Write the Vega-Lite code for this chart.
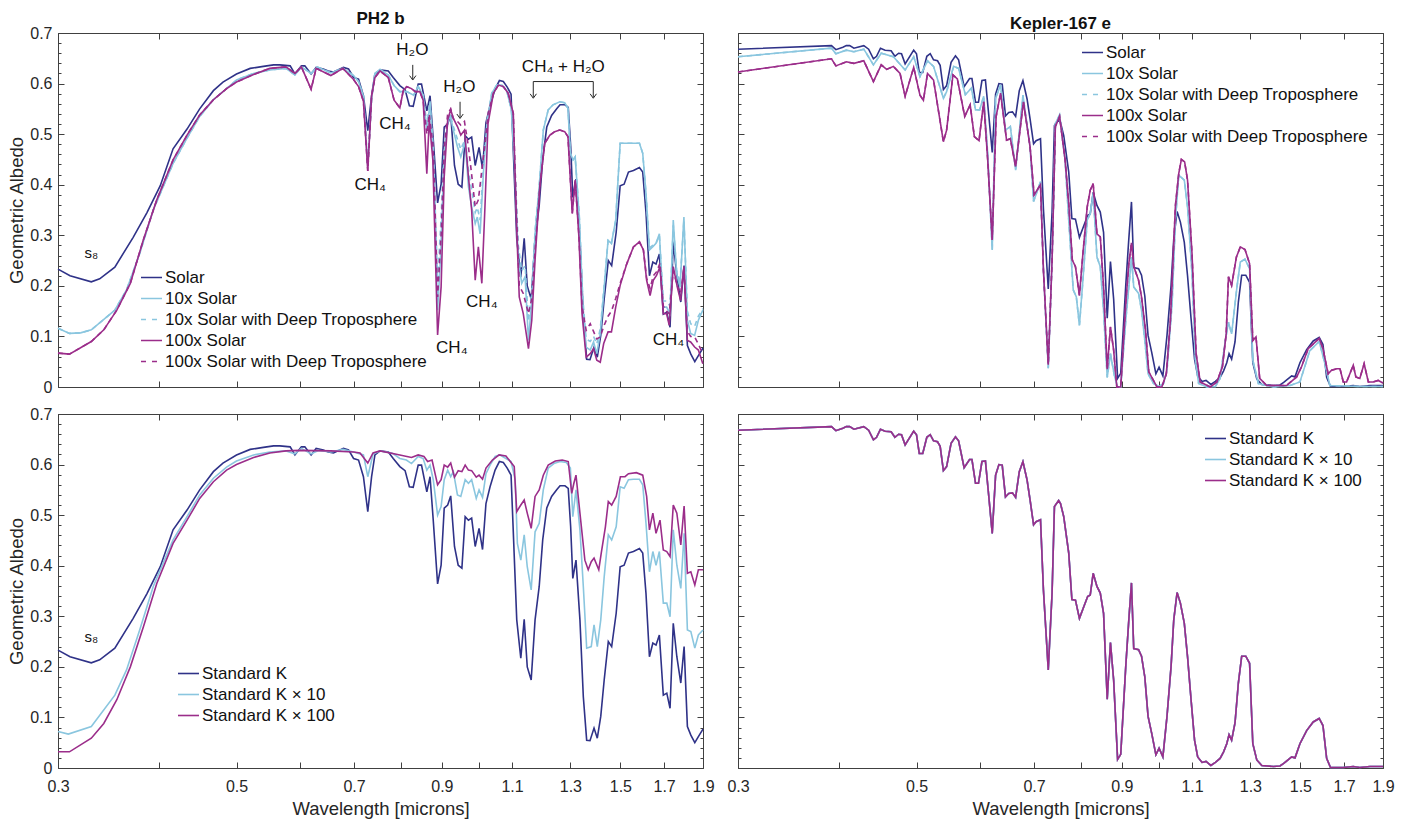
{
  "$schema": "https://vega.github.io/schema/vega-lite/v6.json",
  "background": "white",
  "padding": {"left": 7, "top": 10, "right": 10, "bottom": 5},
  "config": {
    "font": "Liberation Sans",
    "view": {"stroke": null},
    "axis": {
      "labelFont": "Liberation Sans", "titleFont": "Liberation Sans",
      "labelFontSize": 16, "titleFontSize": 18.5, "titleFontWeight": "normal",
      "labelColor": "#262626", "titleColor": "#262626",
      "domainColor": "#404040", "tickColor": "#404040",
      "domainWidth": 1, "tickWidth": 1, "grid": false,
      "labelFlush": false, "labelOverlap": false
    },
    "legend": {
      "symbolType": "stroke", "symbolSize": 441, "symbolStrokeWidth": 1.6,
      "labelFont": "Liberation Sans", "labelFontSize": 17, "labelColor": "#111111",
      "labelLimit": 500, "rowPadding": 1, "labelOffset": 2, "padding": 0
    },
    "title": {"font": "Liberation Sans", "fontSize": 17, "fontWeight": "bold", "color": "#111111", "offset": -3, "anchor": "middle"}
  },
  "datasets": {
    "frame": [{"w": 0.3, "a": 0}, {"w": 1.9, "a": 0.7}],
    "ph2_solar": [{"w":0.3,"a":0.233},{"w":0.3105,"a":0.22},{"w":0.33,"a":0.208},{"w":0.338,"a":0.214},{"w":0.353,"a":0.237},{"w":0.372,"a":0.296},{"w":0.387,"a":0.345},{"w":0.402,"a":0.398},{"w":0.417,"a":0.471},{"w":0.434,"a":0.51},{"w":0.45,"a":0.55},{"w":0.468,"a":0.586},{"w":0.481,"a":0.603},{"w":0.5,"a":0.619},{"w":0.52,"a":0.63},{"w":0.54,"a":0.634},{"w":0.556,"a":0.637},{"w":0.566,"a":0.637},{"w":0.583,"a":0.635},{"w":0.591,"a":0.619},{"w":0.602,"a":0.635},{"w":0.608,"a":0.635},{"w":0.619,"a":0.619},{"w":0.628,"a":0.632},{"w":0.641,"a":0.629},{"w":0.65,"a":0.625},{"w":0.66,"a":0.623},{"w":0.679,"a":0.632},{"w":0.689,"a":0.629},{"w":0.699,"a":0.612},{"w":0.709,"a":0.609},{"w":0.719,"a":0.576},{"w":0.728,"a":0.507},{"w":0.736,"a":0.576},{"w":0.743,"a":0.619},{"w":0.754,"a":0.627},{"w":0.772,"a":0.625},{"w":0.783,"a":0.612},{"w":0.798,"a":0.596},{"w":0.81,"a":0.588},{"w":0.82,"a":0.556},{"w":0.829,"a":0.555},{"w":0.841,"a":0.599},{"w":0.849,"a":0.599},{"w":0.862,"a":0.546},{"w":0.87,"a":0.576},{"w":0.878,"a":0.49},{"w":0.889,"a":0.364},{"w":0.898,"a":0.401},{"w":0.906,"a":0.514},{"w":0.915,"a":0.52},{"w":0.923,"a":0.538},{"w":0.933,"a":0.438},{"w":0.943,"a":0.401},{"w":0.953,"a":0.395},{"w":0.962,"a":0.497},{"w":0.971,"a":0.49},{"w":0.98,"a":0.494},{"w":0.99,"a":0.438},{"w":1.001,"a":0.474},{"w":1.011,"a":0.432},{"w":1.021,"a":0.523},{"w":1.033,"a":0.556},{"w":1.048,"a":0.589},{"w":1.061,"a":0.606},{"w":1.073,"a":0.604},{"w":1.085,"a":0.593},{"w":1.097,"a":0.579},{"w":1.115,"a":0.293},{"w":1.128,"a":0.217},{"w":1.139,"a":0.294},{"w":1.149,"a":0.2},{"w":1.162,"a":0.174},{"w":1.175,"a":0.293},{"w":1.189,"a":0.359},{"w":1.201,"a":0.451},{"w":1.215,"a":0.514},{"w":1.232,"a":0.537},{"w":1.25,"a":0.55},{"w":1.262,"a":0.558},{"w":1.28,"a":0.558},{"w":1.292,"a":0.553},{"w":1.301,"a":0.477},{"w":1.309,"a":0.375},{"w":1.321,"a":0.411},{"w":1.336,"a":0.293},{"w":1.349,"a":0.141},{"w":1.362,"a":0.055},{"w":1.375,"a":0.054},{"w":1.391,"a":0.079},{"w":1.404,"a":0.059},{"w":1.418,"a":0.102},{"w":1.432,"a":0.174},{"w":1.449,"a":0.25},{"w":1.463,"a":0.24},{"w":1.482,"a":0.306},{"w":1.499,"a":0.398},{"w":1.516,"a":0.401},{"w":1.535,"a":0.425},{"w":1.557,"a":0.428},{"w":1.584,"a":0.434},{"w":1.599,"a":0.425},{"w":1.614,"a":0.345},{"w":1.63,"a":0.22},{"w":1.646,"a":0.247},{"w":1.661,"a":0.243},{"w":1.677,"a":0.263},{"w":1.696,"a":0.144},{"w":1.713,"a":0.148},{"w":1.729,"a":0.118},{"w":1.745,"a":0.286},{"w":1.763,"a":0.22},{"w":1.783,"a":0.168},{"w":1.8,"a":0.24},{"w":1.817,"a":0.082},{"w":1.835,"a":0.065},{"w":1.856,"a":0.05},{"w":1.875,"a":0.062},{"w":1.9,"a":0.077}],
    "ph2_10x": [{"w":0.3,"a":0.116},{"w":0.31,"a":0.106},{"w":0.32,"a":0.107},{"w":0.33,"a":0.113},{"w":0.353,"a":0.152},{"w":0.365,"a":0.192},{"w":0.379,"a":0.264},{"w":0.394,"a":0.35},{"w":0.417,"a":0.442},{"w":0.434,"a":0.492},{"w":0.45,"a":0.535},{"w":0.468,"a":0.568},{"w":0.486,"a":0.59},{"w":0.5,"a":0.607},{"w":0.525,"a":0.62},{"w":0.55,"a":0.627},{"w":0.576,"a":0.63},{"w":0.591,"a":0.617},{"w":0.602,"a":0.633},{"w":0.619,"a":0.62},{"w":0.63,"a":0.633},{"w":0.655,"a":0.621},{"w":0.678,"a":0.63},{"w":0.699,"a":0.616},{"w":0.709,"a":0.604},{"w":0.719,"a":0.575},{"w":0.728,"a":0.436},{"w":0.736,"a":0.57},{"w":0.743,"a":0.62},{"w":0.754,"a":0.628},{"w":0.772,"a":0.617},{"w":0.785,"a":0.596},{"w":0.798,"a":0.584},{"w":0.814,"a":0.584},{"w":0.83,"a":0.577},{"w":0.841,"a":0.594},{"w":0.853,"a":0.577},{"w":0.862,"a":0.508},{"w":0.87,"a":0.561},{"w":0.878,"a":0.462},{"w":0.889,"a":0.152},{"w":0.897,"a":0.264},{"w":0.906,"a":0.462},{"w":0.915,"a":0.521},{"w":0.921,"a":0.538},{"w":0.93,"a":0.508},{"w":0.941,"a":0.475},{"w":0.95,"a":0.455},{"w":0.962,"a":0.485},{"w":0.971,"a":0.396},{"w":0.98,"a":0.356},{"w":0.99,"a":0.323},{"w":0.996,"a":0.336},{"w":1.004,"a":0.303},{"w":1.014,"a":0.429},{"w":1.025,"a":0.528},{"w":1.038,"a":0.581},{"w":1.053,"a":0.597},{"w":1.068,"a":0.597},{"w":1.083,"a":0.587},{"w":1.098,"a":0.548},{"w":1.109,"a":0.429},{"w":1.12,"a":0.251},{"w":1.131,"a":0.205},{"w":1.142,"a":0.218},{"w":1.153,"a":0.092},{"w":1.164,"a":0.171},{"w":1.175,"a":0.303},{"w":1.189,"a":0.396},{"w":1.203,"a":0.508},{"w":1.22,"a":0.548},{"w":1.237,"a":0.558},{"w":1.261,"a":0.564},{"w":1.279,"a":0.562},{"w":1.291,"a":0.551},{"w":1.3,"a":0.462},{"w":1.31,"a":0.449},{"w":1.318,"a":0.455},{"w":1.334,"a":0.33},{"w":1.347,"a":0.165},{"w":1.36,"a":0.079},{"w":1.376,"a":0.073},{"w":1.389,"a":0.089},{"w":1.402,"a":0.066},{"w":1.416,"a":0.106},{"w":1.43,"a":0.185},{"w":1.448,"a":0.29},{"w":1.462,"a":0.284},{"w":1.48,"a":0.33},{"w":1.499,"a":0.482},{"w":1.584,"a":0.482},{"w":1.599,"a":0.462},{"w":1.614,"a":0.383},{"w":1.63,"a":0.271},{"w":1.645,"a":0.277},{"w":1.661,"a":0.284},{"w":1.677,"a":0.303},{"w":1.696,"a":0.158},{"w":1.712,"a":0.158},{"w":1.729,"a":0.145},{"w":1.745,"a":0.33},{"w":1.762,"a":0.224},{"w":1.779,"a":0.198},{"w":1.799,"a":0.336},{"w":1.817,"a":0.132},{"w":1.834,"a":0.106},{"w":1.855,"a":0.102},{"w":1.875,"a":0.132},{"w":1.899,"a":0.152}],
    "ph2_10xd": [{"w":0.3,"a":0.116},{"w":0.31,"a":0.106},{"w":0.32,"a":0.107},{"w":0.33,"a":0.113},{"w":0.353,"a":0.152},{"w":0.365,"a":0.192},{"w":0.379,"a":0.264},{"w":0.394,"a":0.35},{"w":0.417,"a":0.442},{"w":0.434,"a":0.492},{"w":0.45,"a":0.535},{"w":0.468,"a":0.568},{"w":0.486,"a":0.59},{"w":0.5,"a":0.607},{"w":0.525,"a":0.62},{"w":0.55,"a":0.627},{"w":0.576,"a":0.63},{"w":0.591,"a":0.617},{"w":0.602,"a":0.633},{"w":0.619,"a":0.62},{"w":0.63,"a":0.633},{"w":0.655,"a":0.621},{"w":0.678,"a":0.63},{"w":0.699,"a":0.616},{"w":0.709,"a":0.604},{"w":0.719,"a":0.575},{"w":0.728,"a":0.436},{"w":0.736,"a":0.57},{"w":0.743,"a":0.62},{"w":0.754,"a":0.628},{"w":0.772,"a":0.617},{"w":0.785,"a":0.596},{"w":0.798,"a":0.584},{"w":0.814,"a":0.584},{"w":0.83,"a":0.577},{"w":0.841,"a":0.594},{"w":0.853,"a":0.577},{"w":0.862,"a":0.52},{"w":0.87,"a":0.565},{"w":0.878,"a":0.47},{"w":0.889,"a":0.21},{"w":0.897,"a":0.32},{"w":0.906,"a":0.475},{"w":0.915,"a":0.525},{"w":0.921,"a":0.54},{"w":0.93,"a":0.515},{"w":0.941,"a":0.49},{"w":0.95,"a":0.47},{"w":0.962,"a":0.49},{"w":0.971,"a":0.43},{"w":0.98,"a":0.39},{"w":0.99,"a":0.345},{"w":0.996,"a":0.355},{"w":1.004,"a":0.33},{"w":1.014,"a":0.44},{"w":1.025,"a":0.53},{"w":1.038,"a":0.581},{"w":1.053,"a":0.597},{"w":1.068,"a":0.597},{"w":1.083,"a":0.587},{"w":1.098,"a":0.548},{"w":1.109,"a":0.44},{"w":1.12,"a":0.28},{"w":1.131,"a":0.23},{"w":1.142,"a":0.24},{"w":1.153,"a":0.13},{"w":1.164,"a":0.19},{"w":1.175,"a":0.31},{"w":1.189,"a":0.396},{"w":1.203,"a":0.508},{"w":1.22,"a":0.548},{"w":1.237,"a":0.558},{"w":1.261,"a":0.564},{"w":1.279,"a":0.562},{"w":1.291,"a":0.551},{"w":1.3,"a":0.462},{"w":1.31,"a":0.449},{"w":1.318,"a":0.455},{"w":1.334,"a":0.335},{"w":1.347,"a":0.175},{"w":1.36,"a":0.095},{"w":1.376,"a":0.09},{"w":1.389,"a":0.1},{"w":1.402,"a":0.085},{"w":1.416,"a":0.115},{"w":1.43,"a":0.19},{"w":1.448,"a":0.29},{"w":1.462,"a":0.284},{"w":1.48,"a":0.33},{"w":1.499,"a":0.482},{"w":1.584,"a":0.482},{"w":1.599,"a":0.462},{"w":1.614,"a":0.383},{"w":1.63,"a":0.275},{"w":1.645,"a":0.28},{"w":1.661,"a":0.284},{"w":1.677,"a":0.3},{"w":1.696,"a":0.17},{"w":1.712,"a":0.17},{"w":1.729,"a":0.16},{"w":1.745,"a":0.32},{"w":1.762,"a":0.23},{"w":1.779,"a":0.205},{"w":1.799,"a":0.33},{"w":1.817,"a":0.15},{"w":1.834,"a":0.125},{"w":1.855,"a":0.12},{"w":1.875,"a":0.14},{"w":1.899,"a":0.155}],
    "ph2_100x": [{"w":0.3,"a":0.067},{"w":0.31,"a":0.065},{"w":0.33,"a":0.09},{"w":0.342,"a":0.113},{"w":0.355,"a":0.152},{"w":0.369,"a":0.205},{"w":0.383,"a":0.291},{"w":0.398,"a":0.37},{"w":0.417,"a":0.449},{"w":0.434,"a":0.498},{"w":0.45,"a":0.538},{"w":0.468,"a":0.568},{"w":0.486,"a":0.59},{"w":0.5,"a":0.603},{"w":0.525,"a":0.618},{"w":0.55,"a":0.63},{"w":0.576,"a":0.633},{"w":0.591,"a":0.62},{"w":0.602,"a":0.633},{"w":0.619,"a":0.589},{"w":0.628,"a":0.63},{"w":0.655,"a":0.616},{"w":0.678,"a":0.63},{"w":0.699,"a":0.608},{"w":0.709,"a":0.594},{"w":0.719,"a":0.565},{"w":0.728,"a":0.427},{"w":0.736,"a":0.575},{"w":0.743,"a":0.612},{"w":0.754,"a":0.625},{"w":0.772,"a":0.612},{"w":0.785,"a":0.567},{"w":0.798,"a":0.552},{"w":0.806,"a":0.587},{"w":0.814,"a":0.594},{"w":0.825,"a":0.59},{"w":0.834,"a":0.584},{"w":0.845,"a":0.584},{"w":0.853,"a":0.567},{"w":0.862,"a":0.422},{"w":0.868,"a":0.528},{"w":0.877,"a":0.449},{"w":0.881,"a":0.33},{"w":0.889,"a":0.103},{"w":0.898,"a":0.198},{"w":0.906,"a":0.416},{"w":0.915,"a":0.528},{"w":0.923,"a":0.548},{"w":0.93,"a":0.531},{"w":0.941,"a":0.515},{"w":0.95,"a":0.498},{"w":0.96,"a":0.508},{"w":0.971,"a":0.416},{"w":0.98,"a":0.35},{"w":0.99,"a":0.211},{"w":0.999,"a":0.277},{"w":1.009,"a":0.205},{"w":1.018,"a":0.356},{"w":1.027,"a":0.521},{"w":1.043,"a":0.581},{"w":1.058,"a":0.597},{"w":1.073,"a":0.594},{"w":1.088,"a":0.581},{"w":1.104,"a":0.541},{"w":1.115,"a":0.31},{"w":1.123,"a":0.178},{"w":1.136,"a":0.145},{"w":1.153,"a":0.076},{"w":1.164,"a":0.132},{"w":1.175,"a":0.251},{"w":1.191,"a":0.396},{"w":1.208,"a":0.482},{"w":1.226,"a":0.498},{"w":1.243,"a":0.505},{"w":1.261,"a":0.508},{"w":1.279,"a":0.505},{"w":1.291,"a":0.495},{"w":1.3,"a":0.409},{"w":1.307,"a":0.343},{"w":1.318,"a":0.409},{"w":1.332,"a":0.297},{"w":1.344,"a":0.145},{"w":1.36,"a":0.059},{"w":1.376,"a":0.066},{"w":1.389,"a":0.076},{"w":1.402,"a":0.053},{"w":1.416,"a":0.049},{"w":1.43,"a":0.086},{"w":1.448,"a":0.109},{"w":1.462,"a":0.109},{"w":1.48,"a":0.158},{"w":1.499,"a":0.201},{"w":1.528,"a":0.244},{"w":1.557,"a":0.277},{"w":1.584,"a":0.287},{"w":1.602,"a":0.271},{"w":1.617,"a":0.211},{"w":1.633,"a":0.181},{"w":1.648,"a":0.211},{"w":1.664,"a":0.221},{"w":1.68,"a":0.238},{"w":1.696,"a":0.145},{"w":1.712,"a":0.145},{"w":1.725,"a":0.122},{"w":1.745,"a":0.238},{"w":1.765,"a":0.198},{"w":1.782,"a":0.171},{"w":1.799,"a":0.238},{"w":1.817,"a":0.092},{"w":1.834,"a":0.089},{"w":1.855,"a":0.079},{"w":1.875,"a":0.073},{"w":1.899,"a":0.046}],
    "ph2_100xd": [{"w":0.3,"a":0.067},{"w":0.31,"a":0.065},{"w":0.33,"a":0.09},{"w":0.342,"a":0.113},{"w":0.355,"a":0.152},{"w":0.369,"a":0.205},{"w":0.383,"a":0.291},{"w":0.398,"a":0.37},{"w":0.417,"a":0.449},{"w":0.434,"a":0.498},{"w":0.45,"a":0.538},{"w":0.468,"a":0.568},{"w":0.486,"a":0.59},{"w":0.5,"a":0.603},{"w":0.525,"a":0.618},{"w":0.55,"a":0.63},{"w":0.576,"a":0.633},{"w":0.591,"a":0.62},{"w":0.602,"a":0.633},{"w":0.619,"a":0.589},{"w":0.628,"a":0.63},{"w":0.655,"a":0.616},{"w":0.678,"a":0.63},{"w":0.699,"a":0.608},{"w":0.709,"a":0.594},{"w":0.719,"a":0.565},{"w":0.728,"a":0.427},{"w":0.736,"a":0.575},{"w":0.743,"a":0.612},{"w":0.754,"a":0.625},{"w":0.772,"a":0.612},{"w":0.785,"a":0.567},{"w":0.798,"a":0.552},{"w":0.806,"a":0.587},{"w":0.814,"a":0.594},{"w":0.825,"a":0.59},{"w":0.834,"a":0.584},{"w":0.845,"a":0.584},{"w":0.853,"a":0.567},{"w":0.862,"a":0.5},{"w":0.868,"a":0.54},{"w":0.877,"a":0.48},{"w":0.881,"a":0.4},{"w":0.889,"a":0.178},{"w":0.898,"a":0.3},{"w":0.906,"a":0.47},{"w":0.915,"a":0.54},{"w":0.923,"a":0.55},{"w":0.93,"a":0.53},{"w":0.941,"a":0.525},{"w":0.95,"a":0.518},{"w":0.96,"a":0.525},{"w":0.971,"a":0.475},{"w":0.98,"a":0.42},{"w":0.99,"a":0.356},{"w":0.999,"a":0.37},{"w":1.009,"a":0.429},{"w":1.018,"a":0.48},{"w":1.027,"a":0.54},{"w":1.043,"a":0.581},{"w":1.058,"a":0.597},{"w":1.073,"a":0.594},{"w":1.088,"a":0.581},{"w":1.104,"a":0.541},{"w":1.115,"a":0.33},{"w":1.123,"a":0.2},{"w":1.136,"a":0.185},{"w":1.153,"a":0.145},{"w":1.164,"a":0.175},{"w":1.175,"a":0.27},{"w":1.191,"a":0.396},{"w":1.208,"a":0.482},{"w":1.226,"a":0.498},{"w":1.243,"a":0.505},{"w":1.261,"a":0.508},{"w":1.279,"a":0.505},{"w":1.291,"a":0.495},{"w":1.3,"a":0.409},{"w":1.307,"a":0.343},{"w":1.318,"a":0.409},{"w":1.332,"a":0.3},{"w":1.344,"a":0.16},{"w":1.36,"a":0.112},{"w":1.376,"a":0.125},{"w":1.389,"a":0.11},{"w":1.402,"a":0.095},{"w":1.416,"a":0.099},{"w":1.43,"a":0.12},{"w":1.448,"a":0.14},{"w":1.462,"a":0.15},{"w":1.48,"a":0.175},{"w":1.499,"a":0.205},{"w":1.528,"a":0.244},{"w":1.557,"a":0.277},{"w":1.584,"a":0.287},{"w":1.602,"a":0.271},{"w":1.617,"a":0.215},{"w":1.633,"a":0.195},{"w":1.648,"a":0.22},{"w":1.664,"a":0.228},{"w":1.68,"a":0.245},{"w":1.696,"a":0.16},{"w":1.712,"a":0.15},{"w":1.725,"a":0.145},{"w":1.745,"a":0.23},{"w":1.765,"a":0.2},{"w":1.782,"a":0.185},{"w":1.799,"a":0.235},{"w":1.817,"a":0.11},{"w":1.834,"a":0.1},{"w":1.855,"a":0.099},{"w":1.875,"a":0.085},{"w":1.899,"a":0.065}],
    "ph2_k10": [{"w":0.3,"a":0.072},{"w":0.309,"a":0.067},{"w":0.33,"a":0.082},{"w":0.353,"a":0.144},{"w":0.365,"a":0.194},{"w":0.379,"a":0.273},{"w":0.394,"a":0.359},{"w":0.417,"a":0.451},{"w":0.434,"a":0.497},{"w":0.45,"a":0.54},{"w":0.468,"a":0.573},{"w":0.486,"a":0.595},{"w":0.5,"a":0.607},{"w":0.525,"a":0.619},{"w":0.55,"a":0.625},{"w":0.576,"a":0.627},{"w":0.591,"a":0.621},{"w":0.602,"a":0.632},{"w":0.619,"a":0.621},{"w":0.632,"a":0.628},{"w":0.655,"a":0.625},{"w":0.678,"a":0.63},{"w":0.699,"a":0.625},{"w":0.719,"a":0.619},{"w":0.728,"a":0.576},{"w":0.739,"a":0.621},{"w":0.754,"a":0.627},{"w":0.78,"a":0.623},{"w":0.798,"a":0.612},{"w":0.813,"a":0.609},{"w":0.825,"a":0.602},{"w":0.841,"a":0.616},{"w":0.853,"a":0.612},{"w":0.862,"a":0.589},{"w":0.87,"a":0.599},{"w":0.878,"a":0.57},{"w":0.889,"a":0.5},{"w":0.898,"a":0.517},{"w":0.906,"a":0.57},{"w":0.915,"a":0.589},{"w":0.923,"a":0.576},{"w":0.93,"a":0.586},{"w":0.941,"a":0.54},{"w":0.95,"a":0.537},{"w":0.962,"a":0.57},{"w":0.971,"a":0.563},{"w":0.98,"a":0.57},{"w":0.993,"a":0.533},{"w":1.001,"a":0.55},{"w":1.011,"a":0.535},{"w":1.021,"a":0.582},{"w":1.033,"a":0.599},{"w":1.048,"a":0.616},{"w":1.063,"a":0.619},{"w":1.081,"a":0.612},{"w":1.097,"a":0.606},{"w":1.11,"a":0.57},{"w":1.117,"a":0.444},{"w":1.128,"a":0.411},{"w":1.139,"a":0.461},{"w":1.149,"a":0.398},{"w":1.162,"a":0.352},{"w":1.175,"a":0.467},{"w":1.189,"a":0.484},{"w":1.203,"a":0.55},{"w":1.22,"a":0.593},{"w":1.24,"a":0.602},{"w":1.262,"a":0.606},{"w":1.285,"a":0.604},{"w":1.3,"a":0.593},{"w":1.309,"a":0.497},{"w":1.321,"a":0.55},{"w":1.336,"a":0.471},{"w":1.349,"a":0.359},{"w":1.362,"a":0.237},{"w":1.38,"a":0.24},{"w":1.391,"a":0.283},{"w":1.404,"a":0.24},{"w":1.418,"a":0.293},{"w":1.432,"a":0.378},{"w":1.449,"a":0.461},{"w":1.463,"a":0.451},{"w":1.482,"a":0.477},{"w":1.499,"a":0.556},{"w":1.516,"a":0.553},{"w":1.535,"a":0.57},{"w":1.557,"a":0.571},{"w":1.584,"a":0.571},{"w":1.599,"a":0.56},{"w":1.614,"a":0.484},{"w":1.63,"a":0.388},{"w":1.646,"a":0.428},{"w":1.661,"a":0.401},{"w":1.677,"a":0.428},{"w":1.696,"a":0.326},{"w":1.713,"a":0.326},{"w":1.729,"a":0.299},{"w":1.745,"a":0.471},{"w":1.763,"a":0.401},{"w":1.783,"a":0.355},{"w":1.8,"a":0.464},{"w":1.817,"a":0.273},{"w":1.835,"a":0.27},{"w":1.856,"a":0.237},{"w":1.875,"a":0.263},{"w":1.9,"a":0.273}],
    "ph2_k100": [{"w":0.3,"a":0.032},{"w":0.31,"a":0.032},{"w":0.33,"a":0.059},{"w":0.342,"a":0.088},{"w":0.355,"a":0.135},{"w":0.369,"a":0.2},{"w":0.383,"a":0.279},{"w":0.398,"a":0.365},{"w":0.417,"a":0.444},{"w":0.434,"a":0.49},{"w":0.45,"a":0.533},{"w":0.468,"a":0.566},{"w":0.486,"a":0.589},{"w":0.5,"a":0.6},{"w":0.525,"a":0.614},{"w":0.55,"a":0.623},{"w":0.576,"a":0.627},{"w":0.6,"a":0.628},{"w":0.655,"a":0.627},{"w":0.699,"a":0.625},{"w":0.712,"a":0.623},{"w":0.728,"a":0.603},{"w":0.739,"a":0.623},{"w":0.754,"a":0.627},{"w":0.798,"a":0.619},{"w":0.825,"a":0.614},{"w":0.841,"a":0.619},{"w":0.855,"a":0.616},{"w":0.864,"a":0.606},{"w":0.875,"a":0.609},{"w":0.889,"a":0.56},{"w":0.898,"a":0.57},{"w":0.906,"a":0.599},{"w":0.915,"a":0.595},{"w":0.923,"a":0.603},{"w":0.933,"a":0.575},{"w":0.943,"a":0.588},{"w":0.953,"a":0.586},{"w":0.962,"a":0.599},{"w":0.971,"a":0.589},{"w":0.98,"a":0.588},{"w":0.993,"a":0.575},{"w":1.001,"a":0.579},{"w":1.011,"a":0.571},{"w":1.021,"a":0.593},{"w":1.04,"a":0.609},{"w":1.06,"a":0.619},{"w":1.081,"a":0.617},{"w":1.107,"a":0.596},{"w":1.115,"a":0.507},{"w":1.128,"a":0.52},{"w":1.139,"a":0.53},{"w":1.149,"a":0.504},{"w":1.162,"a":0.474},{"w":1.175,"a":0.537},{"w":1.189,"a":0.55},{"w":1.203,"a":0.579},{"w":1.22,"a":0.599},{"w":1.245,"a":0.607},{"w":1.27,"a":0.609},{"w":1.292,"a":0.606},{"w":1.305,"a":0.543},{"w":1.313,"a":0.563},{"w":1.321,"a":0.579},{"w":1.336,"a":0.504},{"w":1.355,"a":0.411},{"w":1.368,"a":0.392},{"w":1.38,"a":0.408},{"w":1.391,"a":0.415},{"w":1.41,"a":0.392},{"w":1.42,"a":0.425},{"w":1.437,"a":0.477},{"w":1.449,"a":0.527},{"w":1.463,"a":0.52},{"w":1.482,"a":0.537},{"w":1.5,"a":0.576},{"w":1.52,"a":0.576},{"w":1.535,"a":0.582},{"w":1.57,"a":0.584},{"w":1.599,"a":0.579},{"w":1.617,"a":0.537},{"w":1.63,"a":0.471},{"w":1.646,"a":0.504},{"w":1.661,"a":0.464},{"w":1.68,"a":0.49},{"w":1.696,"a":0.431},{"w":1.713,"a":0.428},{"w":1.729,"a":0.418},{"w":1.745,"a":0.52},{"w":1.763,"a":0.504},{"w":1.783,"a":0.441},{"w":1.8,"a":0.518},{"w":1.817,"a":0.385},{"w":1.835,"a":0.388},{"w":1.856,"a":0.362},{"w":1.875,"a":0.392},{"w":1.9,"a":0.392}],
    "kep_solar": [{"w":0.3,"a":0.668},{"w":0.392,"a":0.675},{"w":0.397,"a":0.667},{"w":0.405,"a":0.672},{"w":0.409,"a":0.675},{"w":0.413,"a":0.675},{"w":0.418,"a":0.67},{"w":0.43,"a":0.675},{"w":0.436,"a":0.668},{"w":0.442,"a":0.649},{"w":0.446,"a":0.654},{"w":0.451,"a":0.67},{"w":0.457,"a":0.666},{"w":0.465,"a":0.665},{"w":0.47,"a":0.654},{"w":0.475,"a":0.66},{"w":0.479,"a":0.659},{"w":0.484,"a":0.639},{"w":0.496,"a":0.666},{"w":0.5,"a":0.659},{"w":0.504,"a":0.622},{"w":0.509,"a":0.622},{"w":0.515,"a":0.654},{"w":0.52,"a":0.659},{"w":0.525,"a":0.647},{"w":0.531,"a":0.645},{"w":0.535,"a":0.636},{"w":0.54,"a":0.588},{"w":0.545,"a":0.596},{"w":0.552,"a":0.642},{"w":0.559,"a":0.655},{"w":0.564,"a":0.647},{"w":0.573,"a":0.594},{"w":0.582,"a":0.61},{"w":0.586,"a":0.61},{"w":0.592,"a":0.563},{"w":0.597,"a":0.563},{"w":0.603,"a":0.606},{"w":0.609,"a":0.607},{"w":0.615,"a":0.536},{"w":0.621,"a":0.464},{"w":0.627,"a":0.579},{"w":0.633,"a":0.6},{"w":0.639,"a":0.599},{"w":0.645,"a":0.536},{"w":0.651,"a":0.543},{"w":0.658,"a":0.544},{"w":0.664,"a":0.535},{"w":0.671,"a":0.586},{"w":0.678,"a":0.606},{"w":0.686,"a":0.57},{"w":0.692,"a":0.53},{"w":0.699,"a":0.481},{"w":0.704,"a":0.487},{"w":0.713,"a":0.491},{"w":0.719,"a":0.352},{"w":0.729,"a":0.194},{"w":0.737,"a":0.346},{"w":0.742,"a":0.517},{"w":0.751,"a":0.529},{"w":0.755,"a":0.523},{"w":0.762,"a":0.497},{"w":0.773,"a":0.425},{"w":0.78,"a":0.333},{"w":0.788,"a":0.332},{"w":0.797,"a":0.296},{"w":0.807,"a":0.319},{"w":0.816,"a":0.339},{"w":0.822,"a":0.342},{"w":0.829,"a":0.385},{"w":0.838,"a":0.359},{"w":0.846,"a":0.346},{"w":0.854,"a":0.306},{"w":0.863,"a":0.136},{"w":0.871,"a":0.248},{"w":0.879,"a":0.174},{"w":0.889,"a":0.017},{"w":0.897,"a":0.027},{"w":0.91,"a":0.201},{"w":0.918,"a":0.293},{"w":0.925,"a":0.366},{"w":0.931,"a":0.236},{"w":0.944,"a":0.234},{"w":0.952,"a":0.221},{"w":0.961,"a":0.18},{"w":0.97,"a":0.102},{"w":0.98,"a":0.069},{"w":0.992,"a":0.026},{"w":1.001,"a":0.039},{"w":1.012,"a":0.022},{"w":1.024,"a":0.102},{"w":1.036,"a":0.201},{"w":1.044,"a":0.293},{"w":1.054,"a":0.347},{"w":1.064,"a":0.326},{"w":1.076,"a":0.286},{"w":1.086,"a":0.22},{"w":1.097,"a":0.135},{"w":1.108,"a":0.055},{"w":1.118,"a":0.022},{"w":1.132,"a":0.011},{"w":1.145,"a":0.013},{"w":1.161,"a":0.005},{"w":1.176,"a":0.011},{"w":1.192,"a":0.019},{"w":1.204,"a":0.032},{"w":1.215,"a":0.048},{"w":1.223,"a":0.066},{"w":1.232,"a":0.055},{"w":1.244,"a":0.089},{"w":1.256,"a":0.168},{"w":1.268,"a":0.221},{"w":1.283,"a":0.221},{"w":1.297,"a":0.207},{"w":1.309,"a":0.048},{"w":1.324,"a":0.016},{"w":1.343,"a":0.005},{"w":1.389,"a":0.003},{"w":1.415,"a":0.004},{"w":1.43,"a":0.009},{"w":1.463,"a":0.022},{"w":1.477,"a":0.02},{"w":1.498,"a":0.048},{"w":1.527,"a":0.074},{"w":1.556,"a":0.091},{"w":1.583,"a":0.098},{"w":1.6,"a":0.084},{"w":1.617,"a":0.019},{"w":1.635,"a":0.001},{"w":1.696,"a":0.001},{"w":1.745,"a":0.003},{"w":1.778,"a":0.001},{"w":1.83,"a":0.003},{"w":1.9,"a":0.003}],
    "kep_10x": [{"w":0.3,"a":0.653},{"w":0.392,"a":0.67},{"w":0.397,"a":0.659},{"w":0.409,"a":0.666},{"w":0.418,"a":0.663},{"w":0.43,"a":0.668},{"w":0.442,"a":0.637},{"w":0.452,"a":0.66},{"w":0.468,"a":0.653},{"w":0.484,"a":0.627},{"w":0.496,"a":0.653},{"w":0.505,"a":0.614},{"w":0.516,"a":0.645},{"w":0.525,"a":0.634},{"w":0.54,"a":0.571},{"w":0.545,"a":0.584},{"w":0.556,"a":0.634},{"w":0.564,"a":0.63},{"w":0.575,"a":0.578},{"w":0.585,"a":0.591},{"w":0.592,"a":0.548},{"w":0.599,"a":0.548},{"w":0.606,"a":0.575},{"w":0.613,"a":0.462},{"w":0.621,"a":0.271},{"w":0.627,"a":0.571},{"w":0.636,"a":0.597},{"w":0.645,"a":0.508},{"w":0.654,"a":0.515},{"w":0.664,"a":0.429},{"w":0.678,"a":0.577},{"w":0.692,"a":0.475},{"w":0.699,"a":0.367},{"w":0.713,"a":0.406},{"w":0.719,"a":0.231},{"w":0.729,"a":0.037},{"w":0.737,"a":0.251},{"w":0.744,"a":0.521},{"w":0.753,"a":0.538},{"w":0.765,"a":0.449},{"w":0.773,"a":0.33},{"w":0.783,"a":0.192},{"w":0.79,"a":0.178},{"w":0.797,"a":0.122},{"w":0.805,"a":0.211},{"w":0.815,"a":0.33},{"w":0.822,"a":0.343},{"w":0.829,"a":0.383},{"w":0.838,"a":0.257},{"w":0.846,"a":0.238},{"w":0.854,"a":0.152},{"w":0.863,"a":0.019},{"w":0.871,"a":0.066},{"w":0.881,"a":0.022},{"w":0.889,"a":0.0},{"w":0.897,"a":0.0},{"w":0.91,"a":0.132},{"w":0.918,"a":0.198},{"w":0.925,"a":0.257},{"w":0.931,"a":0.198},{"w":0.944,"a":0.185},{"w":0.952,"a":0.152},{"w":0.961,"a":0.092},{"w":0.97,"a":0.026},{"w":0.985,"a":0.007},{"w":1.001,"a":0.001},{"w":1.014,"a":0.007},{"w":1.024,"a":0.033},{"w":1.039,"a":0.165},{"w":1.049,"a":0.33},{"w":1.059,"a":0.419},{"w":1.076,"a":0.409},{"w":1.086,"a":0.356},{"w":1.1,"a":0.224},{"w":1.111,"a":0.053},{"w":1.121,"a":0.007},{"w":1.148,"a":0.0},{"w":1.176,"a":0.001},{"w":1.192,"a":0.017},{"w":1.21,"a":0.092},{"w":1.221,"a":0.128},{"w":1.232,"a":0.105},{"w":1.251,"a":0.198},{"w":1.263,"a":0.247},{"w":1.28,"a":0.253},{"w":1.297,"a":0.234},{"w":1.309,"a":0.053},{"w":1.33,"a":0.007},{"w":1.389,"a":0.0},{"w":1.456,"a":0.003},{"w":1.498,"a":0.01},{"w":1.541,"a":0.072},{"w":1.583,"a":0.09},{"w":1.609,"a":0.046},{"w":1.632,"a":0.003},{"w":1.778,"a":0.001},{"w":1.9,"a":0.001}],
    "kep_100x": [{"w":0.3,"a":0.623},{"w":0.392,"a":0.649},{"w":0.397,"a":0.635},{"w":0.409,"a":0.643},{"w":0.418,"a":0.64},{"w":0.43,"a":0.645},{"w":0.442,"a":0.604},{"w":0.452,"a":0.637},{"w":0.459,"a":0.628},{"w":0.468,"a":0.634},{"w":0.477,"a":0.62},{"w":0.484,"a":0.575},{"w":0.496,"a":0.632},{"w":0.505,"a":0.577},{"w":0.51,"a":0.567},{"w":0.516,"a":0.62},{"w":0.525,"a":0.607},{"w":0.54,"a":0.485},{"w":0.545,"a":0.508},{"w":0.555,"a":0.617},{"w":0.562,"a":0.609},{"w":0.574,"a":0.535},{"w":0.583,"a":0.558},{"w":0.59,"a":0.495},{"w":0.598,"a":0.487},{"w":0.606,"a":0.564},{"w":0.613,"a":0.449},{"w":0.621,"a":0.291},{"w":0.628,"a":0.535},{"w":0.636,"a":0.581},{"w":0.647,"a":0.488},{"w":0.654,"a":0.491},{"w":0.664,"a":0.436},{"w":0.679,"a":0.564},{"w":0.692,"a":0.475},{"w":0.7,"a":0.38},{"w":0.713,"a":0.4},{"w":0.719,"a":0.231},{"w":0.729,"a":0.044},{"w":0.737,"a":0.251},{"w":0.744,"a":0.515},{"w":0.753,"a":0.535},{"w":0.765,"a":0.449},{"w":0.773,"a":0.363},{"w":0.781,"a":0.251},{"w":0.788,"a":0.238},{"w":0.797,"a":0.181},{"w":0.805,"a":0.264},{"w":0.815,"a":0.356},{"w":0.822,"a":0.389},{"w":0.829,"a":0.402},{"w":0.838,"a":0.303},{"w":0.846,"a":0.297},{"w":0.854,"a":0.198},{"w":0.863,"a":0.035},{"w":0.871,"a":0.119},{"w":0.879,"a":0.073},{"w":0.887,"a":0.0},{"w":0.897,"a":0.0},{"w":0.91,"a":0.165},{"w":0.918,"a":0.244},{"w":0.925,"a":0.285},{"w":0.931,"a":0.238},{"w":0.944,"a":0.211},{"w":0.952,"a":0.178},{"w":0.963,"a":0.112},{"w":0.972,"a":0.03},{"w":0.985,"a":0.013},{"w":0.995,"a":0.0},{"w":1.009,"a":0.0},{"w":1.022,"a":0.026},{"w":1.034,"a":0.132},{"w":1.049,"a":0.359},{"w":1.059,"a":0.422},{"w":1.067,"a":0.45},{"w":1.077,"a":0.445},{"w":1.086,"a":0.409},{"w":1.1,"a":0.264},{"w":1.113,"a":0.066},{"w":1.126,"a":0.01},{"w":1.159,"a":0.0},{"w":1.181,"a":0.01},{"w":1.2,"a":0.04},{"w":1.213,"a":0.105},{"w":1.221,"a":0.218},{"w":1.232,"a":0.201},{"w":1.249,"a":0.257},{"w":1.263,"a":0.277},{"w":1.28,"a":0.272},{"w":1.297,"a":0.244},{"w":1.309,"a":0.092},{"w":1.321,"a":0.099},{"w":1.335,"a":0.017},{"w":1.362,"a":0.003},{"w":1.442,"a":0.003},{"w":1.484,"a":0.02},{"w":1.505,"a":0.04},{"w":1.534,"a":0.076},{"w":1.583,"a":0.096},{"w":1.6,"a":0.076},{"w":1.624,"a":0.026},{"w":1.64,"a":0.033},{"w":1.664,"a":0.036},{"w":1.68,"a":0.036},{"w":1.696,"a":0.01},{"w":1.712,"a":0.01},{"w":1.745,"a":0.043},{"w":1.758,"a":0.02},{"w":1.778,"a":0.017},{"w":1.8,"a":0.046},{"w":1.822,"a":0.01},{"w":1.848,"a":0.01},{"w":1.874,"a":0.013},{"w":1.9,"a":0.008}]
  },
  "columns": 2,
  "spacing": {"row": 27, "column": 35},
  "bounds": "flush",
  "resolve": {
    "scale": {"x": "independent", "y": "independent", "color": "independent"},
    "axis": {"x": "independent", "y": "independent"},
    "legend": {"color": "independent"}
  },
  "concat": [
    {
      "width": 645, "height": 354,
      "title": {"text": "PH2 b"},
      "resolve": {"axis": {"x": "independent", "y": "independent"}},
      "layer": [
        {"data": {"name": "frame"}, "mark": {"type": "point", "opacity": 0},
         "encoding": {
           "x": {"field": "w", "type": "quantitative", "scale": {"type": "log", "domain": [0.3, 1.9], "nice": false}, "axis": {"orient": "bottom", "values": [0.3,0.4,0.5,0.6,0.7,0.8,0.9,1.0,1.1,1.3,1.5,1.7,1.9], "labels": false, "tickSize": -6, "title": null}},
           "y": {"field": "a", "type": "quantitative", "scale": {"domain": [0, 0.7], "nice": false, "zero": false}, "axis": {"orient": "left", "values": [0,0.1,0.2,0.3,0.4,0.5,0.6,0.7], "format": ".1~f", "labelPadding": 12, "tickSize": -6, "title": "Geometric Albedo", "titlePadding": 3}}}},
        {"data": {"name": "frame"}, "mark": {"type": "point", "opacity": 0},
         "encoding": {
           "x": {"field": "w", "type": "quantitative", "axis": {"orient": "top", "values": [0.3,0.4,0.5,0.6,0.7,0.8,0.9,1.0,1.1,1.3,1.5,1.7,1.9], "labels": false, "tickSize": -6, "title": null}},
           "y": {"field": "a", "type": "quantitative", "axis": {"orient": "left", "values": [0,0.02,0.04,0.06,0.08,0.1,0.12,0.14,0.16,0.18,0.2,0.22,0.24,0.26,0.28,0.3,0.32,0.34,0.36,0.38,0.4,0.42,0.44,0.46,0.48,0.5,0.52,0.54,0.56,0.58,0.6,0.62,0.64,0.66,0.68,0.7], "labels": false, "domain": false, "tickSize": -3, "title": null}}}},
        {"data": {"name": "frame"}, "mark": {"type": "point", "opacity": 0},
         "encoding": {
           "x": {"field": "w", "type": "quantitative", "axis": null},
           "y": {"field": "a", "type": "quantitative", "axis": {"orient": "right", "values": [0,0.1,0.2,0.3,0.4,0.5,0.6,0.7], "labels": false, "tickSize": -6, "title": null}}}},
        {"data": {"name": "frame"}, "mark": {"type": "point", "opacity": 0},
         "encoding": {
           "x": {"field": "w", "type": "quantitative", "axis": null},
           "y": {"field": "a", "type": "quantitative", "axis": {"orient": "right", "values": [0,0.02,0.04,0.06,0.08,0.1,0.12,0.14,0.16,0.18,0.2,0.22,0.24,0.26,0.28,0.3,0.32,0.34,0.36,0.38,0.4,0.42,0.44,0.46,0.48,0.5,0.52,0.54,0.56,0.58,0.6,0.62,0.64,0.66,0.68,0.7], "labels": false, "domain": false, "tickSize": -3, "title": null}}}},
        {"data": {"name": "ph2_solar"}, "mark": {"type": "line", "strokeWidth": 1.6},
         "encoding": {
           "x": {"field": "w", "type": "quantitative", "axis": null},
           "y": {"field": "a", "type": "quantitative", "axis": null},
           "color": {"datum": "Solar", "type": "nominal",
             "scale": {"domain": ["Solar", "10x Solar", "10x Solar with Deep Troposphere", "100x Solar", "100x Solar with Deep Troposphere"], "range": ["#2f3288", "#8ac6df", "#8ac6df", "#9b2d8a", "#9b2d8a"]},
             "legend": {"title": null, "orient": "none", "legendX": 82, "legendY": 233,
               "encode": {"symbols": {"update": {"strokeDash": {"signal": "indexof(datum.label, 'Deep') >= 0 ? [5, 6] : [1, 0]"}}}}}}}},
        {"data": {"name": "ph2_10x"}, "mark": {"type": "line", "strokeWidth": 1.6},
         "encoding": {"x": {"field": "w", "type": "quantitative", "axis": null}, "y": {"field": "a", "type": "quantitative", "axis": null}, "color": {"datum": "10x Solar", "type": "nominal"}}},
        {"data": {"name": "ph2_10xd"}, "mark": {"type": "line", "strokeWidth": 1.6, "strokeDash": [5, 4]},
         "encoding": {"x": {"field": "w", "type": "quantitative", "axis": null}, "y": {"field": "a", "type": "quantitative", "axis": null}, "color": {"datum": "10x Solar with Deep Troposphere", "type": "nominal"}}},
        {"data": {"name": "ph2_100x"}, "mark": {"type": "line", "strokeWidth": 1.6},
         "encoding": {"x": {"field": "w", "type": "quantitative", "axis": null}, "y": {"field": "a", "type": "quantitative", "axis": null}, "color": {"datum": "100x Solar", "type": "nominal"}}},
        {"data": {"name": "ph2_100xd"}, "mark": {"type": "line", "strokeWidth": 1.6, "strokeDash": [5, 4]},
         "encoding": {"x": {"field": "w", "type": "quantitative", "axis": null}, "y": {"field": "a", "type": "quantitative", "axis": null}, "color": {"datum": "100x Solar with Deep Troposphere", "type": "nominal"}}},
        {"data": {"values": [
            {"w": 0.828, "a": 0.637, "w2": 0.828, "a2": 0.609},
            {"w": 0.948, "a": 0.564, "w2": 0.948, "a2": 0.533},
            {"w": 1.169, "a": 0.604, "w2": 1.388, "a2": 0.604},
            {"w": 1.169, "a": 0.604, "w2": 1.169, "a2": 0.573},
            {"w": 1.388, "a": 0.604, "w2": 1.388, "a2": 0.573}]},
         "mark": {"type": "rule", "color": "#262626", "strokeWidth": 1},
         "encoding": {"x": {"field": "w", "type": "quantitative", "axis": null}, "x2": {"field": "w2"}, "y": {"field": "a", "type": "quantitative", "axis": null}, "y2": {"field": "a2"}}},
        {"data": {"values": [{"w": 0.828, "a": 0.607}, {"w": 0.948, "a": 0.531}, {"w": 1.169, "a": 0.571}, {"w": 1.388, "a": 0.571}]},
         "mark": {"type": "point", "shape": "M-1,-1.4L0,0L1,-1.4", "size": 40, "filled": false, "color": "#262626", "strokeWidth": 1, "opacity": 1},
         "encoding": {"x": {"field": "w", "type": "quantitative", "axis": null}, "y": {"field": "a", "type": "quantitative", "axis": null}}},
        {"data": {"values": [
            {"w": 0.733, "a": 0.4, "t": "CH₄"},
            {"w": 0.827, "a": 0.666, "t": "H₂O"},
            {"w": 0.787, "a": 0.521, "t": "CH₄"},
            {"w": 0.946, "a": 0.593, "t": "H₂O"},
            {"w": 0.926, "a": 0.077, "t": "CH₄"},
            {"w": 1.009, "a": 0.169, "t": "CH₄"},
            {"w": 1.274, "a": 0.633, "t": "CH₄ + H₂O"},
            {"w": 1.721, "a": 0.093, "t": "CH₄"}]},
         "mark": {"type": "text", "font": "Liberation Sans", "fontSize": 17, "color": "#111111", "align": "center", "baseline": "middle"},
         "encoding": {"x": {"field": "w", "type": "quantitative", "axis": null}, "y": {"field": "a", "type": "quantitative", "axis": null}, "text": {"field": "t"}}},
        {"data": {"values": [{"w": 0.33, "a": 0.265, "t": "s₈"}]},
         "mark": {"type": "text", "font": "Liberation Sans", "fontSize": 15, "color": "#111111", "align": "center", "baseline": "middle"},
         "encoding": {"x": {"field": "w", "type": "quantitative", "axis": null}, "y": {"field": "a", "type": "quantitative", "axis": null}, "text": {"field": "t"}}}
      ]
    },
    {
      "width": 645, "height": 354,
      "title": {"text": "Kepler-167 e"},
      "resolve": {"axis": {"x": "independent", "y": "independent"}},
      "layer": [
        {"data": {"name": "frame"}, "mark": {"type": "point", "opacity": 0},
         "encoding": {
           "x": {"field": "w", "type": "quantitative", "scale": {"type": "log", "domain": [0.3, 1.9], "nice": false}, "axis": {"orient": "bottom", "values": [0.3,0.4,0.5,0.6,0.7,0.8,0.9,1.0,1.1,1.3,1.5,1.7,1.9], "labels": false, "tickSize": -6, "title": null}},
           "y": {"field": "a", "type": "quantitative", "scale": {"domain": [0, 0.7], "nice": false, "zero": false}, "axis": {"orient": "left", "values": [0,0.1,0.2,0.3,0.4,0.5,0.6,0.7], "labels": false, "tickSize": -6, "title": null}}}},
        {"data": {"name": "frame"}, "mark": {"type": "point", "opacity": 0},
         "encoding": {
           "x": {"field": "w", "type": "quantitative", "axis": {"orient": "top", "values": [0.3,0.4,0.5,0.6,0.7,0.8,0.9,1.0,1.1,1.3,1.5,1.7,1.9], "labels": false, "tickSize": -6, "title": null}},
           "y": {"field": "a", "type": "quantitative", "axis": {"orient": "left", "values": [0,0.02,0.04,0.06,0.08,0.1,0.12,0.14,0.16,0.18,0.2,0.22,0.24,0.26,0.28,0.3,0.32,0.34,0.36,0.38,0.4,0.42,0.44,0.46,0.48,0.5,0.52,0.54,0.56,0.58,0.6,0.62,0.64,0.66,0.68,0.7], "labels": false, "domain": false, "tickSize": -3, "title": null}}}},
        {"data": {"name": "frame"}, "mark": {"type": "point", "opacity": 0},
         "encoding": {
           "x": {"field": "w", "type": "quantitative", "axis": null},
           "y": {"field": "a", "type": "quantitative", "axis": {"orient": "right", "values": [0,0.1,0.2,0.3,0.4,0.5,0.6,0.7], "labels": false, "tickSize": -6, "title": null}}}},
        {"data": {"name": "frame"}, "mark": {"type": "point", "opacity": 0},
         "encoding": {
           "x": {"field": "w", "type": "quantitative", "axis": null},
           "y": {"field": "a", "type": "quantitative", "axis": {"orient": "right", "values": [0,0.02,0.04,0.06,0.08,0.1,0.12,0.14,0.16,0.18,0.2,0.22,0.24,0.26,0.28,0.3,0.32,0.34,0.36,0.38,0.4,0.42,0.44,0.46,0.48,0.5,0.52,0.54,0.56,0.58,0.6,0.62,0.64,0.66,0.68,0.7], "labels": false, "domain": false, "tickSize": -3, "title": null}}}},
        {"data": {"name": "kep_solar"}, "mark": {"type": "line", "strokeWidth": 1.6},
         "encoding": {
           "x": {"field": "w", "type": "quantitative", "axis": null},
           "y": {"field": "a", "type": "quantitative", "axis": null},
           "color": {"datum": "Solar", "type": "nominal",
             "scale": {"domain": ["Solar", "10x Solar", "10x Solar with Deep Troposphere", "100x Solar", "100x Solar with Deep Troposphere"], "range": ["#2f3288", "#8ac6df", "#8ac6df", "#9b2d8a", "#9b2d8a"]},
             "legend": {"title": null, "orient": "none", "legendX": 343, "legendY": 8,
               "encode": {"symbols": {"update": {"strokeDash": {"signal": "indexof(datum.label, 'Deep') >= 0 ? [5, 6] : [1, 0]"}}}}}}}},
        {"data": {"name": "kep_10x"}, "mark": {"type": "line", "strokeWidth": 1.6},
         "encoding": {"x": {"field": "w", "type": "quantitative", "axis": null}, "y": {"field": "a", "type": "quantitative", "axis": null}, "color": {"datum": "10x Solar", "type": "nominal"}}},
        {"data": {"name": "kep_10x"}, "mark": {"type": "line", "strokeWidth": 1.6, "strokeDash": [5, 4]},
         "encoding": {"x": {"field": "w", "type": "quantitative", "axis": null}, "y": {"field": "a", "type": "quantitative", "axis": null}, "color": {"datum": "10x Solar with Deep Troposphere", "type": "nominal"}}},
        {"data": {"name": "kep_100x"}, "mark": {"type": "line", "strokeWidth": 1.6},
         "encoding": {"x": {"field": "w", "type": "quantitative", "axis": null}, "y": {"field": "a", "type": "quantitative", "axis": null}, "color": {"datum": "100x Solar", "type": "nominal"}}},
        {"data": {"name": "kep_100x"}, "mark": {"type": "line", "strokeWidth": 1.6, "strokeDash": [5, 4]},
         "encoding": {"x": {"field": "w", "type": "quantitative", "axis": null}, "y": {"field": "a", "type": "quantitative", "axis": null}, "color": {"datum": "100x Solar with Deep Troposphere", "type": "nominal"}}}
      ]
    },
    {
      "width": 645, "height": 354,
      "resolve": {"axis": {"x": "independent", "y": "independent"}},
      "layer": [
        {"data": {"name": "frame"}, "mark": {"type": "point", "opacity": 0},
         "encoding": {
           "x": {"field": "w", "type": "quantitative", "scale": {"type": "log", "domain": [0.3, 1.9], "nice": false}, "axis": {"orient": "bottom", "values": [0.3,0.4,0.5,0.6,0.7,0.8,0.9,1.0,1.1,1.3,1.5,1.7,1.9], "labelExpr": "indexof([3,5,7,9,11,13,15,17,19], round(datum.value * 10)) >= 0 ? format(datum.value, '.1f') : ''", "labelPadding": 16, "tickSize": -6, "title": "Wavelength [microns]", "titlePadding": 5}},
           "y": {"field": "a", "type": "quantitative", "scale": {"domain": [0, 0.7], "nice": false, "zero": false}, "axis": {"orient": "left", "values": [0,0.1,0.2,0.3,0.4,0.5,0.6,0.7], "format": ".1~f", "labelPadding": 12, "tickSize": -6, "title": "Geometric Albedo", "titlePadding": 3}}}},
        {"data": {"name": "frame"}, "mark": {"type": "point", "opacity": 0},
         "encoding": {
           "x": {"field": "w", "type": "quantitative", "axis": {"orient": "top", "values": [0.3,0.4,0.5,0.6,0.7,0.8,0.9,1.0,1.1,1.3,1.5,1.7,1.9], "labels": false, "tickSize": -6, "title": null}},
           "y": {"field": "a", "type": "quantitative", "axis": {"orient": "left", "values": [0,0.02,0.04,0.06,0.08,0.1,0.12,0.14,0.16,0.18,0.2,0.22,0.24,0.26,0.28,0.3,0.32,0.34,0.36,0.38,0.4,0.42,0.44,0.46,0.48,0.5,0.52,0.54,0.56,0.58,0.6,0.62,0.64,0.66,0.68,0.7], "labels": false, "domain": false, "tickSize": -3, "title": null}}}},
        {"data": {"name": "frame"}, "mark": {"type": "point", "opacity": 0},
         "encoding": {
           "x": {"field": "w", "type": "quantitative", "axis": null},
           "y": {"field": "a", "type": "quantitative", "axis": {"orient": "right", "values": [0,0.1,0.2,0.3,0.4,0.5,0.6,0.7], "labels": false, "tickSize": -6, "title": null}}}},
        {"data": {"name": "frame"}, "mark": {"type": "point", "opacity": 0},
         "encoding": {
           "x": {"field": "w", "type": "quantitative", "axis": null},
           "y": {"field": "a", "type": "quantitative", "axis": {"orient": "right", "values": [0,0.02,0.04,0.06,0.08,0.1,0.12,0.14,0.16,0.18,0.2,0.22,0.24,0.26,0.28,0.3,0.32,0.34,0.36,0.38,0.4,0.42,0.44,0.46,0.48,0.5,0.52,0.54,0.56,0.58,0.6,0.62,0.64,0.66,0.68,0.7], "labels": false, "domain": false, "tickSize": -3, "title": null}}}},
        {"data": {"name": "ph2_solar"}, "mark": {"type": "line", "strokeWidth": 1.6},
         "encoding": {
           "x": {"field": "w", "type": "quantitative", "axis": null},
           "y": {"field": "a", "type": "quantitative", "axis": null},
           "color": {"datum": "Standard K", "type": "nominal",
             "scale": {"domain": ["Standard K", "Standard K × 10", "Standard K × 100"], "range": ["#2f3288", "#8ac6df", "#9b2d8a"]},
             "legend": {"title": null, "orient": "none", "legendX": 119, "legendY": 248}}}},
        {"data": {"name": "ph2_k10"}, "mark": {"type": "line", "strokeWidth": 1.6},
         "encoding": {"x": {"field": "w", "type": "quantitative", "axis": null}, "y": {"field": "a", "type": "quantitative", "axis": null}, "color": {"datum": "Standard K × 10", "type": "nominal"}}},
        {"data": {"name": "ph2_k100"}, "mark": {"type": "line", "strokeWidth": 1.6},
         "encoding": {"x": {"field": "w", "type": "quantitative", "axis": null}, "y": {"field": "a", "type": "quantitative", "axis": null}, "color": {"datum": "Standard K × 100", "type": "nominal"}}},
        {"data": {"values": [{"w": 0.33, "a": 0.26, "t": "s₈"}]},
         "mark": {"type": "text", "font": "Liberation Sans", "fontSize": 15, "color": "#111111", "align": "center", "baseline": "middle"},
         "encoding": {"x": {"field": "w", "type": "quantitative", "axis": null}, "y": {"field": "a", "type": "quantitative", "axis": null}, "text": {"field": "t"}}}
      ]
    },
    {
      "width": 645, "height": 354,
      "resolve": {"axis": {"x": "independent", "y": "independent"}},
      "layer": [
        {"data": {"name": "frame"}, "mark": {"type": "point", "opacity": 0},
         "encoding": {
           "x": {"field": "w", "type": "quantitative", "scale": {"type": "log", "domain": [0.3, 1.9], "nice": false}, "axis": {"orient": "bottom", "values": [0.3,0.4,0.5,0.6,0.7,0.8,0.9,1.0,1.1,1.3,1.5,1.7,1.9], "labelExpr": "indexof([3,5,7,9,11,13,15,17,19], round(datum.value * 10)) >= 0 ? format(datum.value, '.1f') : ''", "labelPadding": 16, "tickSize": -6, "title": "Wavelength [microns]", "titlePadding": 5}},
           "y": {"field": "a", "type": "quantitative", "scale": {"domain": [0, 0.7], "nice": false, "zero": false}, "axis": {"orient": "left", "values": [0,0.1,0.2,0.3,0.4,0.5,0.6,0.7], "labels": false, "tickSize": -6, "title": null}}}},
        {"data": {"name": "frame"}, "mark": {"type": "point", "opacity": 0},
         "encoding": {
           "x": {"field": "w", "type": "quantitative", "axis": {"orient": "top", "values": [0.3,0.4,0.5,0.6,0.7,0.8,0.9,1.0,1.1,1.3,1.5,1.7,1.9], "labels": false, "tickSize": -6, "title": null}},
           "y": {"field": "a", "type": "quantitative", "axis": {"orient": "left", "values": [0,0.02,0.04,0.06,0.08,0.1,0.12,0.14,0.16,0.18,0.2,0.22,0.24,0.26,0.28,0.3,0.32,0.34,0.36,0.38,0.4,0.42,0.44,0.46,0.48,0.5,0.52,0.54,0.56,0.58,0.6,0.62,0.64,0.66,0.68,0.7], "labels": false, "domain": false, "tickSize": -3, "title": null}}}},
        {"data": {"name": "frame"}, "mark": {"type": "point", "opacity": 0},
         "encoding": {
           "x": {"field": "w", "type": "quantitative", "axis": null},
           "y": {"field": "a", "type": "quantitative", "axis": {"orient": "right", "values": [0,0.1,0.2,0.3,0.4,0.5,0.6,0.7], "labels": false, "tickSize": -6, "title": null}}}},
        {"data": {"name": "frame"}, "mark": {"type": "point", "opacity": 0},
         "encoding": {
           "x": {"field": "w", "type": "quantitative", "axis": null},
           "y": {"field": "a", "type": "quantitative", "axis": {"orient": "right", "values": [0,0.02,0.04,0.06,0.08,0.1,0.12,0.14,0.16,0.18,0.2,0.22,0.24,0.26,0.28,0.3,0.32,0.34,0.36,0.38,0.4,0.42,0.44,0.46,0.48,0.5,0.52,0.54,0.56,0.58,0.6,0.62,0.64,0.66,0.68,0.7], "labels": false, "domain": false, "tickSize": -3, "title": null}}}},
        {"data": {"name": "kep_solar"}, "mark": {"type": "line", "strokeWidth": 1.6},
         "encoding": {
           "x": {"field": "w", "type": "quantitative", "axis": null},
           "y": {"field": "a", "type": "quantitative", "axis": null},
           "color": {"datum": "Standard K", "type": "nominal",
             "scale": {"domain": ["Standard K", "Standard K × 10", "Standard K × 100"], "range": ["#2f3288", "#8ac6df", "#9b2d8a"]},
             "legend": {"title": null, "orient": "none", "legendX": 466, "legendY": 13}}}},
        {"data": {"name": "kep_solar"}, "mark": {"type": "line", "strokeWidth": 1.6},
         "encoding": {"x": {"field": "w", "type": "quantitative", "axis": null}, "y": {"field": "a", "type": "quantitative", "axis": null}, "color": {"datum": "Standard K × 10", "type": "nominal"}}},
        {"data": {"name": "kep_solar"}, "mark": {"type": "line", "strokeWidth": 1.6},
         "encoding": {"x": {"field": "w", "type": "quantitative", "axis": null}, "y": {"field": "a", "type": "quantitative", "axis": null}, "color": {"datum": "Standard K × 100", "type": "nominal"}}}
      ]
    }
  ]
}
